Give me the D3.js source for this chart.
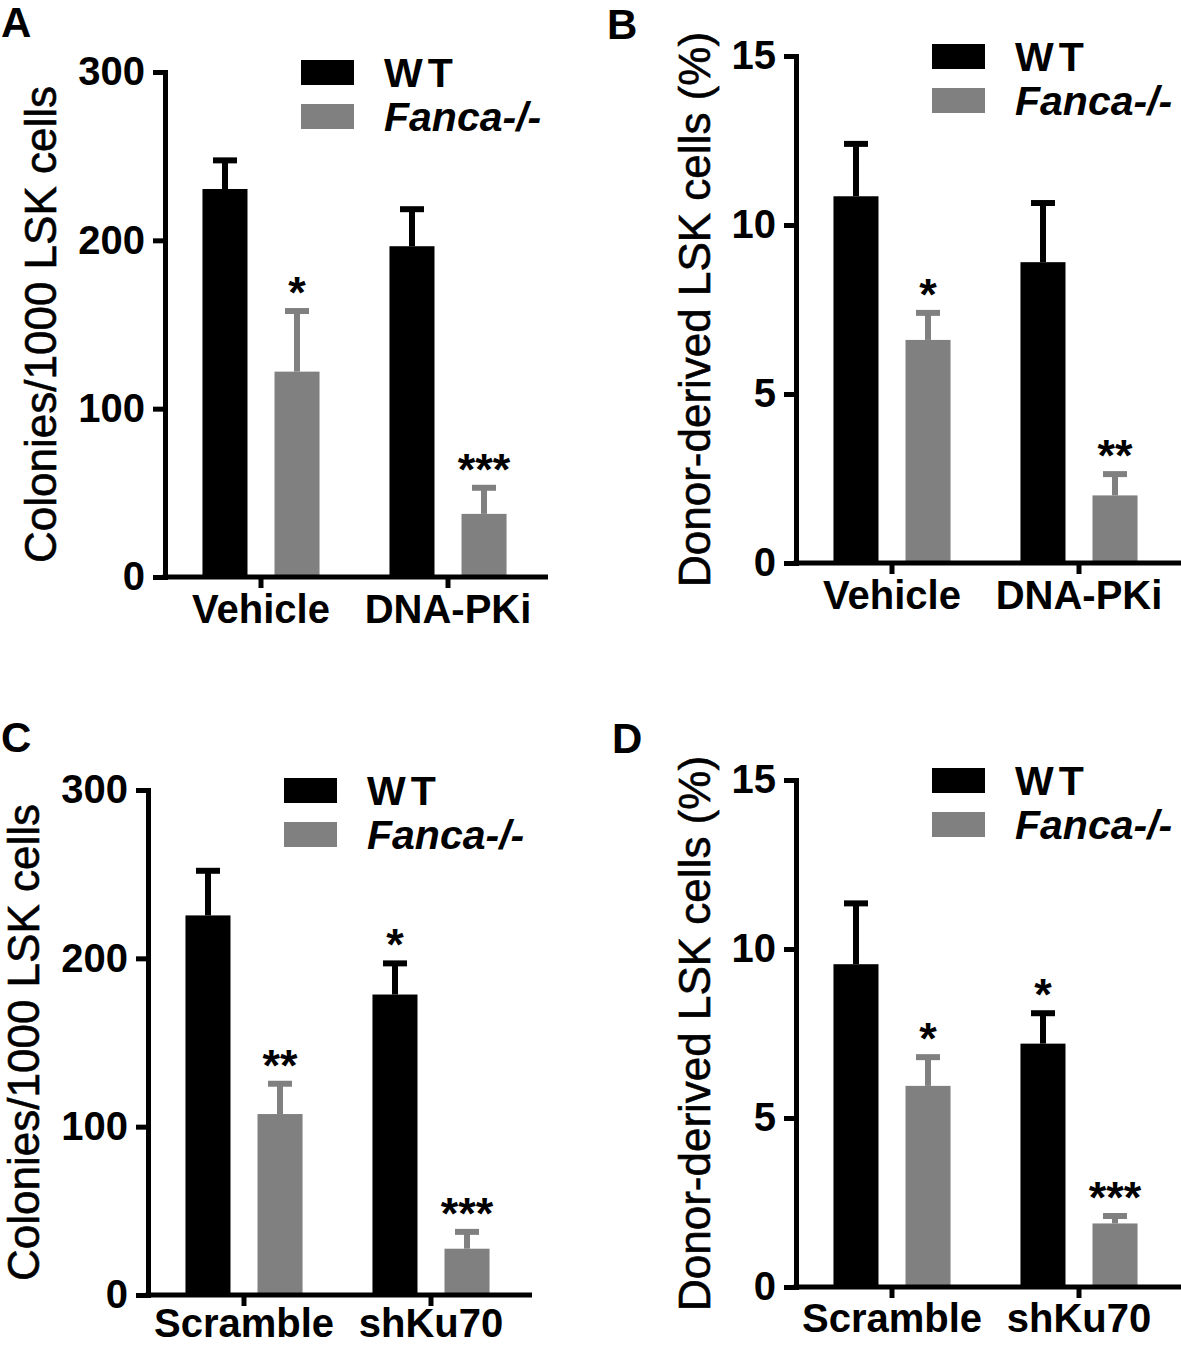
<!DOCTYPE html>
<html><head><meta charset="utf-8">
<script src="https://cdn.jsdelivr.net/npm/d3@7"></script>
<style>
html,body{margin:0;padding:0;background:#fff;}
svg{display:block;font-family:"Liberation Sans", Arial, sans-serif;}
</style></head><body>
<svg id="chart" width="1181" height="1348"></svg>
<script>
// ---------- data ----------
const seriesNames = ["WT", "Fanca-/-"];
const treatmentCategories = ["Vehicle", "DNA-PKi"];
const knockdownCategories = ["Scramble", "shKu70"];
const colonyTicks = [0, 100, 200, 300];
const donorTicks = [0, 5, 10, 15];
const colonyTitle = "Colonies/1000 LSK cells";
const donorTitle = "Donor-derived LSK cells (%)";

// Panel A: colonies, Vehicle vs DNA-PKi
const aWT = [230.5, 196.5];
const aWTsem = [17, 22];
const aFanca = [122, 37.5];
const aFancaSem = [36, 15.5];
const aStars = [["", "*"], ["", "***"]];

// Panel B: donor-derived, Vehicle vs DNA-PKi
const bWT = [10.85, 8.9];
const bWTsem = [1.55, 1.75];
const bFanca = [6.6, 2.0];
const bFancaSem = [0.8, 0.63];
const bStars = [["", "*"], ["", "**"]];

// Panel C: colonies, Scramble vs shKu70
const cWT = [225.5, 178.5];
const cWTsem = [26.5, 18.5];
const cFanca = [107.5, 27.5];
const cFancaSem = [18, 10];
const cStars = [["", "**"], ["*", "***"]];

// Panel D: donor-derived, Scramble vs shKu70
const dWT = [9.55, 7.2];
const dWTsem = [1.8, 0.9];
const dFanca = [5.95, 1.88];
const dFancaSem = [0.85, 0.22];
const dStars = [["", "*"], ["*", "***"]];

// ---------- layout / style ----------
const colors = {"WT": "#000000", "Fanca-/-": "#808080"};
const svg = d3.select("#chart");
svg.append("rect").attr("width", 1181).attr("height", 1348).attr("fill", "#fff");

const panels = [
  {letter: "A", lx: 1, ly: 37, ax: 165, top: 72, bottom: 577, xEnd: 548, ticks: colonyTicks, title: colonyTitle, titleOff: 109,
   cats: treatmentCategories, means: [aWT, aFanca], sems: [aWTsem, aFancaSem], stars: aStars, pad: 7},
  {letter: "B", lx: 607, ly: 39, ax: 796, top: 56, bottom: 563, xEnd: 1181, ticks: donorTicks, title: donorTitle, titleOff: 86,
   cats: treatmentCategories, means: [bWT, bFanca], sems: [bWTsem, bFancaSem], stars: bStars, pad: 7},
  {letter: "C", lx: 1, ly: 752, ax: 148, top: 790, bottom: 1295, xEnd: 532, ticks: colonyTicks, title: colonyTitle, titleOff: 109,
   cats: knockdownCategories, means: [cWT, cFanca], sems: [cWTsem, cFancaSem], stars: cStars, pad: 3},
  {letter: "D", lx: 612, ly: 753, ax: 796, top: 780, bottom: 1287, xEnd: 1181, ticks: donorTicks, title: donorTitle, titleOff: 86,
   cats: knockdownCategories, means: [dWT, dFanca], sems: [dWTsem, dFancaSem], stars: dStars, pad: 6}
];

function drawPanel(p) {
  const g = svg.append("g");
  const yMax = d3.max(p.ticks);
  const y = d3.scaleLinear().domain([0, yMax]).range([p.bottom, p.top]);
  const x0 = d3.scaleBand().domain(p.cats).range([p.ax + 2.5, p.ax + 376.5])
    .paddingInner(0.374).paddingOuter(0.187);
  const x1 = d3.scaleBand().domain(seriesNames).range([0, x0.bandwidth()]).paddingInner(0.375);

  const rows = [];
  p.cats.forEach((c, i) => seriesNames.forEach((s, j) => {
    rows.push({cat: c, series: s, mean: p.means[j][i], sem: p.sems[j][i], star: p.stars[i][j]});
  }));
  const cx = d => x0(d.cat) + x1(d.series) + x1.bandwidth() / 2;

  // bars
  g.selectAll("rect.bar").data(rows).join("rect").attr("class", "bar")
    .attr("x", d => x0(d.cat) + x1(d.series))
    .attr("y", d => y(d.mean))
    .attr("width", x1.bandwidth())
    .attr("height", d => y(0) - y(d.mean))
    .attr("fill", d => colors[d.series]);

  // error bars (upper only)
  g.selectAll("line.err").data(rows).join("line").attr("class", "err")
    .attr("x1", cx).attr("x2", cx)
    .attr("y1", d => y(d.mean)).attr("y2", d => y(d.mean + d.sem))
    .attr("stroke", d => colors[d.series]).attr("stroke-width", 6);
  g.selectAll("line.cap").data(rows).join("line").attr("class", "cap")
    .attr("x1", d => cx(d) - 12).attr("x2", d => cx(d) + 12)
    .attr("y1", d => y(d.mean + d.sem)).attr("y2", d => y(d.mean + d.sem))
    .attr("stroke", d => colors[d.series]).attr("stroke-width", 6);

  // significance stars
  g.selectAll("text.star").data(rows.filter(d => d.star)).join("text").attr("class", "star")
    .attr("x", cx).attr("y", d => y(d.mean + d.sem) - 3)
    .attr("text-anchor", "middle")
    .style("font-size", "45px").style("font-weight", "bold")
    .text(d => d.star);

  // y axis
  const yAxis = g.append("g").attr("transform", `translate(${p.ax},0)`)
    .call(d3.axisLeft(y).tickValues(p.ticks).tickSize(12).tickSizeOuter(0).tickPadding(8).tickFormat(d3.format("d")));
  yAxis.select(".domain").attr("stroke-width", 5).attr("stroke-linecap", "square");
  yAxis.selectAll(".tick line").attr("stroke-width", 5);
  yAxis.selectAll(".tick text").style("font-size", "40px").style("font-weight", "bold")
    .style("font-family", "'Liberation Sans', Arial, sans-serif").attr("fill", "#000");

  // x axis
  const xAxis = g.append("g").attr("transform", `translate(0,${y(0)})`)
    .call(d3.axisBottom(x0).tickSize(11).tickSizeOuter(0).tickPadding(p.pad));
  xAxis.select(".domain").remove();
  xAxis.selectAll(".tick line").attr("stroke-width", 5);
  xAxis.selectAll(".tick text").style("font-size", "40px").style("font-weight", "bold")
    .style("font-family", "'Liberation Sans', Arial, sans-serif").attr("fill", "#000");
  g.append("line").attr("x1", p.ax - 2.5).attr("x2", p.xEnd)
    .attr("y1", y(0)).attr("y2", y(0)).attr("stroke", "#000").attr("stroke-width", 5);

  // y title
  g.append("text")
    .attr("transform", `translate(${p.ax - p.titleOff},${(p.top + p.bottom) / 2}) rotate(-90)`)
    .attr("text-anchor", "middle")
    .style("font-size", "44px")
    .style("stroke", "#000").style("stroke-width", 0.6)
    .text(p.title);

  // legend
  const lg = g.append("g").attr("transform", `translate(${p.ax + 136},${p.top - 12})`);
  seriesNames.forEach((s, j) => {
    lg.append("rect").attr("x", 0).attr("y", j * 44).attr("width", 53).attr("height", 25)
      .attr("fill", colors[s]);
    lg.append("text").attr("x", 83).attr("y", j * 44 + 27)
      .style("font-size", "41px").style("font-weight", "bold")
      .style("font-style", j === 1 ? "italic" : "normal")
      .style("letter-spacing", j === 0 ? "5px" : "0px")
      .text(s);
  });

  // panel letter
  svg.append("text").attr("x", p.lx).attr("y", p.ly)
    .style("font-size", "42px").style("font-weight", "bold").text(p.letter);
}

panels.forEach(drawPanel);
</script>
</body></html>
